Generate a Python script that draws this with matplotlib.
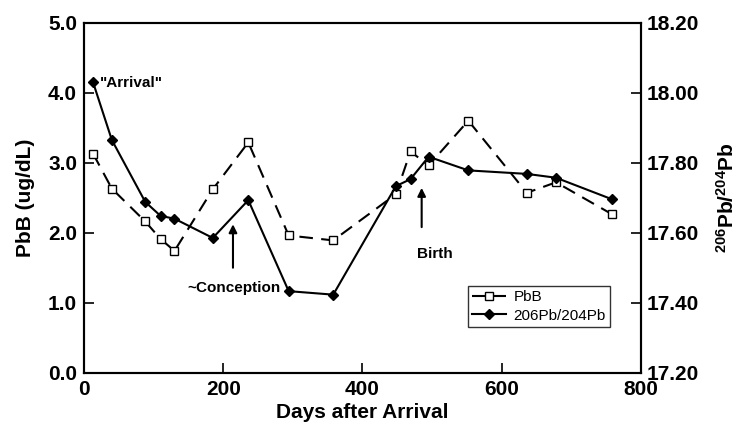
import matplotlib.pyplot as plt

plt.rcParams['font.family'] = ['Liberation Sans', 'DejaVu Sans']
plt.rcParams['mathtext.fontset'] = 'custom'
plt.rcParams['mathtext.rm'] = 'Liberation Sans'
plt.rcParams['mathtext.bf'] = 'Liberation Sans:bold'

# days after arrival (shared by both series)
days = [13, 40, 88, 110, 130, 185, 236, 294, 358, 448, 469, 495, 552, 636, 678, 759]
# blood lead, ug/dL
pbb = [3.13, 2.63, 2.16, 1.91, 1.74, 2.62, 3.29, 1.96, 1.89, 2.55, 3.16, 2.96, 3.60, 2.57, 2.72, 2.26]
# 206Pb/204Pb ratio
ratio = [18.03, 17.865, 17.688, 17.648, 17.64, 17.585, 17.693, 17.433, 17.423,
         17.733, 17.753, 17.817, 17.778, 17.768, 17.757, 17.695]

left_ticks = [0.0, 1.0, 2.0, 3.0, 4.0, 5.0]
right_ticks = [17.20, 17.40, 17.60, 17.80, 18.00, 18.20]
x_ticks = [0, 200, 400, 600, 800]

fig = plt.figure(figsize=(7.36, 4.28), dpi=100)
ax = fig.add_axes([0.1141, 0.1292, 0.7568, 0.8178])
ax2 = ax.twinx()

l1, = ax.plot(days, pbb, color='k', lw=1.5, dashes=(6.5, 4), marker='s', ms=6,
              mfc='white', mec='k', mew=1.0, label='PbB')
l2, = ax2.plot(days, ratio, color='k', lw=1.5, marker='D', ms=5,
               mfc='k', mec='k', label='206Pb/204Pb')

ax.set_xlim(0, 800)
ax.set_ylim(0, 5)
ax2.set_ylim(17.2, 18.2)
ax.set_xticks(x_ticks)
ax.set_yticks(left_ticks)
ax.set_yticklabels([f'{v:.1f}' for v in left_ticks])
ax2.set_yticks(right_ticks)
ax2.set_yticklabels([f'{v:.2f}' for v in right_ticks])

for a in (ax, ax2):
    for s in a.spines.values():
        s.set_linewidth(1.5)
    a.tick_params(direction='in', length=7, width=1.2, labelsize=15)
    for lab in a.get_xticklabels() + a.get_yticklabels():
        lab.set_fontweight('bold')
ax.tick_params(axis='y', pad=5)
ax.tick_params(axis='x', pad=5)
ax2.tick_params(axis='y', pad=4)

ax.set_xlabel('Days after Arrival', fontsize=15, fontweight='bold', labelpad=3)
ax.set_ylabel('PbB (ug/dL)', fontsize=15, fontweight='bold', labelpad=9)
ax2.set_ylabel('$\\mathbf{^{206}Pb/^{204}Pb}$', fontsize=15, labelpad=12)

# annotations
ax.text(23, 4.14, '"Arrival"', fontsize=11, fontweight='bold', va='center', ha='left')
ax.text(149, 1.21, '~Conception', fontsize=11, fontweight='bold', va='center', ha='left')
ax.annotate('', xy=(214, 2.16), xytext=(214, 1.46),
            arrowprops=dict(arrowstyle='-|>', color='k', lw=1.5, mutation_scale=12))
ax.text(479, 1.70, 'Birth', fontsize=11, fontweight='bold', va='center', ha='left')
ax.annotate('', xy=(485, 2.68), xytext=(485, 2.04),
            arrowprops=dict(arrowstyle='-|>', color='k', lw=1.5, mutation_scale=12))

leg = ax2.legend(handles=[l1, l2], loc='upper left', bbox_to_anchor=(0.689, 0.249),
                 borderaxespad=0, fancybox=False, edgecolor='k', fontsize=11,
                 handlelength=2.2, handletextpad=0.5, borderpad=0.3, labelspacing=0.3)
leg.get_frame().set_linewidth(1.0)

fig.savefig('out.png', dpi=100)
